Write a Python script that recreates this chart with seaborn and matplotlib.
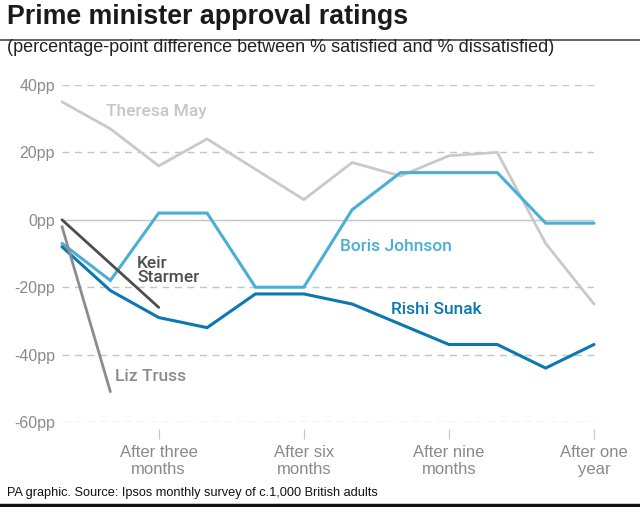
import matplotlib
matplotlib.use("Agg")
import matplotlib.pyplot as plt
import seaborn as sns
import pandas as pd
from matplotlib.lines import Line2D

# ---- data ----
months = list(range(1, 13))
theresa_may = [35, 27, 16, 24, 15, 6, 17, 13, 19, 20, -7, -25]
boris_johnson = [-7, -18, 2, 2, -20, -20, 3, 14, 14, 14, -1, -1]
rishi_sunak = [-8, -21, -29, -32, -22, -22, -25, -31, -37, -37, -44, -37]
keir_starmer = [0, -13, -26]
liz_truss = [-2, -51]

y_ticks = [40, 20, 0, -20, -40, -60]
y_tick_labels = ["40pp", "20pp", "0pp", "-20pp", "-40pp", "-60pp"]
x_ticks = [3, 6, 9, 12]
x_tick_labels = ["After three\nmonths", "After six\nmonths", "After nine\nmonths", "After one\nyear"]

names = ["Theresa May", "Boris Johnson", "Rishi Sunak", "Keir Starmer", "Liz Truss"]
series = [theresa_may, boris_johnson, rishi_sunak, keir_starmer, liz_truss]
colors = {"Theresa May": "#c9c9c9", "Boris Johnson": "#4aaed6",
          "Rishi Sunak": "#0b78b2", "Keir Starmer": "#4d4d4d", "Liz Truss": "#8c8c8c"}
widths = {"Theresa May": 2.0, "Boris Johnson": 2.2, "Rishi Sunak": 2.2,
          "Keir Starmer": 2.0, "Liz Truss": 2.0}

rows = []
for n, vals in zip(names, series):
    for m, v in zip(months, vals):
        rows.append({"month": m, "value": v, "pm": n})
df = pd.DataFrame(rows)

sns.set_theme(style="white")
plt.rcParams["font.family"] = ["Liberation Sans", "DejaVu Sans"]

fig = plt.figure(figsize=(6.4, 5.07), dpi=100)
W, H = 640, 507
x0, x1 = 62, 594
y0, y1 = 85, 422
ax = fig.add_axes([x0 / W, 1 - y1 / H, (x1 - x0) / W, (y1 - y0) / H])

# grid
for t in y_ticks:
    if t == 0:
        ax.axhline(t, color="#c4c4c4", lw=1.0, zorder=1)
    else:
        ax.axhline(t, color="#c4c4c4", lw=1.0, ls=(0, (5, 4)), zorder=1)

for n in names:
    sub = df[df.pm == n]
    sns.lineplot(data=sub, x="month", y="value", ax=ax, color=colors[n],
                 lw=widths[n], legend=False, zorder=3 if n != "Theresa May" else 2,
                 solid_joinstyle="miter", clip_on=False)

ax.set_xlim(1, 12)
ax.set_ylim(-60, 40)
ax.set_yticks(y_ticks)
ax.set_yticklabels(y_tick_labels)
ax.set_xticks(x_ticks)
ax.set_xticklabels(x_tick_labels, linespacing=0.95)
for s in ax.spines.values():
    s.set_visible(False)
ax.spines["bottom"].set_position(("outward", 5))
ax.tick_params(axis="y", length=0, pad=5, labelsize=11.5, labelcolor="#8a8a8a")
ax.tick_params(axis="x", length=7.5, width=0.8, color="#c4c4c4", pad=4,
               labelsize=12, labelcolor="#8a8a8a", direction="out", bottom=True)
ax.set_xlabel("")
ax.set_ylabel("")
ax.grid(False)

# series labels
lab = dict(fontsize=12.5, family=["Roboto", "Liberation Sans"], fontweight="medium")
ax.text(1.9, 32, "Theresa May", color="#c6c6c6", va="center", ha="left", **lab)
ax.text(6.75, -8, "Boris Johnson", color="#4aaed6", va="center", ha="left", **lab)
ax.text(7.8, -26.5, "Rishi Sunak", color="#0b78b2", va="center", ha="left", **lab)
ax.text(2.55, -15, "Keir\nStarmer", color="#4d4d4d", va="center", ha="left", linespacing=0.95, **lab)
ax.text(2.1, -46.5, "Liz Truss", color="#8c8c8c", va="center", ha="left", **lab)

# titles and footer
fig.text(7 / W, 1 - 17 / H, "Prime minister approval ratings", fontsize=19.3, fontweight="bold",
         color="#1a1a1a", va="center", ha="left")
fig.add_artist(Line2D([0, 1], [1 - 40 / H, 1 - 40 / H], color="#555555", lw=1.3))
fig.text(7 / W, 1 - 48 / H, "(percentage-point difference between % satisfied and % dissatisfied)",
         fontsize=13, color="#222222", va="center", ha="left")
fig.text(7 / W, 1 - 493 / H, "PA graphic. Source: Ipsos monthly survey of c.1,000 British adults",
         fontsize=9.2, color="#111111", va="center", ha="left")
fig.add_artist(Line2D([0, 1], [1 - 505 / H, 1 - 505 / H], color="#111111", lw=2.5))

fig.savefig("out.png", dpi=100, facecolor="white")
